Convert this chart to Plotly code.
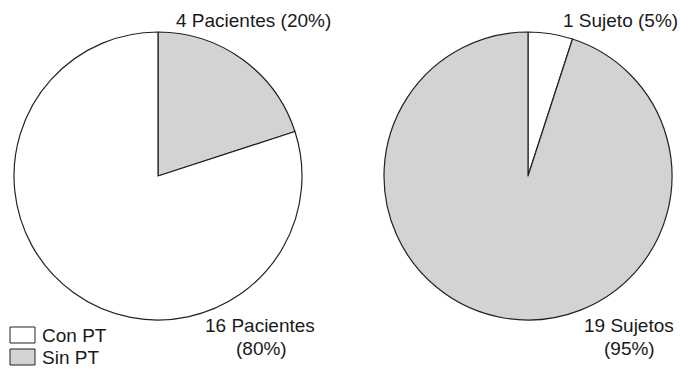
import plotly.graph_objects as go

W, H = 680, 370

categories = ["Con PT", "Sin PT"]
pacientes = [16, 4]   # Con PT, Sin PT
sujetos = [1, 19]     # Con PT, Sin PT
colors = {"Con PT": "#ffffff", "Sin PT": "#d3d3d3"}

FONT = dict(family="Liberation Sans, Arial, sans-serif", size=19, color="#1a1a1a")


def px_x(v):
    return v / W


def px_y(v):
    return 1 - v / H


fig = go.Figure()

# left pie: Sin PT slice first, clockwise from 12 o'clock
left_order = ["Sin PT", "Con PT"]
left_vals = [pacientes[categories.index(c)] for c in left_order]
fig.add_trace(go.Pie(
    labels=left_order, values=left_vals, sort=False, direction="clockwise",
    rotation=0, textinfo="none", hoverinfo="label+value+percent",
    marker=dict(colors=[colors[c] for c in left_order], line=dict(color="#222", width=1.2)),
    domain=dict(x=[px_x(14), px_x(302)], y=[px_y(320), px_y(32)]),
    showlegend=False,
))

# right pie: Con PT slice first, clockwise from 12 o'clock
right_order = ["Con PT", "Sin PT"]
right_vals = [sujetos[categories.index(c)] for c in right_order]
fig.add_trace(go.Pie(
    labels=right_order, values=right_vals, sort=False, direction="clockwise",
    rotation=0, textinfo="none", hoverinfo="label+value+percent",
    marker=dict(colors=[colors[c] for c in right_order], line=dict(color="#222", width=1.2)),
    domain=dict(x=[px_x(384), px_x(672)], y=[px_y(320), px_y(32)]),
    showlegend=False,
))


def pct(vals, i):
    return round(100 * vals[i] / sum(vals))


annotations = [
    dict(x=px_x(253), y=px_y(20), text=f"{pacientes[1]} Pacientes ({pct(pacientes, 1)}%)"),
    dict(x=px_x(260), y=px_y(325), text=f"{pacientes[0]} Pacientes"),
    dict(x=px_x(261), y=px_y(348), text=f"({pct(pacientes, 0)}%)"),
    dict(x=px_x(620), y=px_y(20), text=f"{sujetos[0]} Sujeto ({pct(sujetos, 0)}%)"),
    dict(x=px_x(629), y=px_y(325), text=f"{sujetos[1]} Sujetos"),
    dict(x=px_x(629), y=px_y(348), text=f"({pct(sujetos, 1)}%)"),
]
for a in annotations:
    a.update(xanchor="center", yanchor="middle")

# legend drawn as boxes with labels
shapes = []
for i, cat in enumerate(categories):
    top = 327 + i * 22
    shapes.append(dict(type="rect", xref="paper", yref="paper",
                       x0=px_x(10), x1=px_x(35), y0=px_y(top + 16), y1=px_y(top),
                       fillcolor=colors[cat], line=dict(color="#222", width=1)))
    annotations.append(dict(x=px_x(40), y=px_y(top + 8), text=cat,
                            xanchor="left", yanchor="middle"))

for a in annotations:
    a.update(xref="paper", yref="paper", showarrow=False, font=FONT)

fig.update_layout(
    width=W, height=H, margin=dict(l=0, r=0, t=0, b=0),
    paper_bgcolor="white", plot_bgcolor="white",
    annotations=annotations, shapes=shapes, showlegend=False,
)

fig.write_html("out.html")
